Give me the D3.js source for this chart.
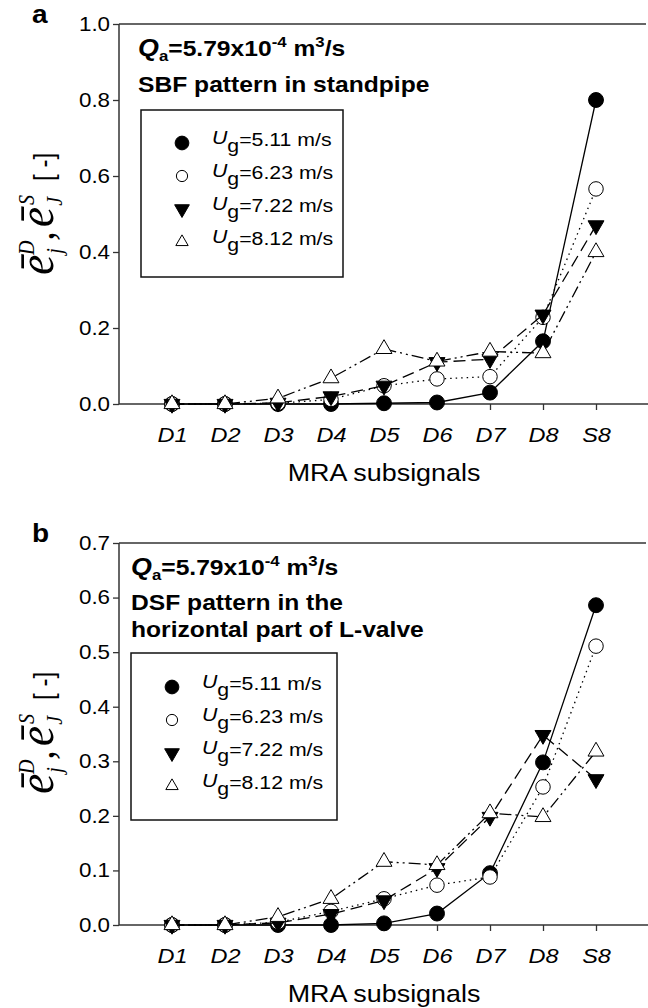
<!DOCTYPE html>
<html lang="en">
<head>
<meta charset="utf-8">
<title>MRA subsignals</title>
<script src="https://d3js.org/d3.v7.min.js"></script>
<style>
  body{margin:0;background:#fff;font-family:"Liberation Sans",Arial,sans-serif;}
  svg text{fill:#000;}
  .tick text{font-family:"Liberation Sans",Arial,sans-serif;}
</style>
</head>
<body>
<div id="chart"></div>
<script>
// categories on the x axis
var categories = ["D1","D2","D3","D4","D5","D6","D7","D8","S8"]
var speeds = ["5.11","6.23","7.22","8.12"]

// panel a : SBF pattern in standpipe
var a_511 = [0, 0, 0, 0, 0.002, 0.004, 0.03, 0.165, 0.80]
var a_623 = [0, 0, 0.002, 0.012, 0.048, 0.066, 0.072, 0.228, 0.566]
var a_722 = [0, 0, 0.003, 0.02, 0.048, 0.11, 0.118, 0.235, 0.47]
var a_812 = [0, 0, 0.015, 0.068, 0.145, 0.112, 0.138, 0.134, 0.40]
var a_ticks = [0, 0.2, 0.4, 0.6, 0.8, 1.0]

// panel b : DSF pattern in the horizontal part of L-valve
var b_511 = [0, 0, 0, 0, 0.003, 0.021, 0.095, 0.298, 0.586]
var b_623 = [0, 0, 0.005, 0.025, 0.048, 0.073, 0.088, 0.253, 0.511]
var b_722 = [0, 0, 0.004, 0.02, 0.045, 0.104, 0.198, 0.348, 0.267]
var b_812 = [0, 0, 0.015, 0.048, 0.116, 0.11, 0.205, 0.198, 0.318]
var b_ticks = [0, 0.1, 0.2, 0.3, 0.4, 0.5, 0.6, 0.7]

var w = 648, h = 1008
var SX = 1.12   // the printed lettering is a bit wide
var svg = d3.select("#chart").append("svg").attr("width", w).attr("height", h)

var styles = [
  {dash: null, symbol: d3.symbolCircle, fill: "#000", size: 175},
  {dash: "1.5,4", symbol: d3.symbolCircle, fill: "#fff", size: 165},
  {dash: "12,6", symbol: d3.symbolTriangle, fill: "#000", size: 110, flip: true},
  {dash: "12,4,2,4,2,4", symbol: d3.symbolTriangle, fill: "#fff", size: 110}
]

// text placed with a slight horizontal stretch
function txt(g, x, y){
  return g.append("text").attr("transform", "translate(" + x + "," + y + ") scale(" + SX + ",1)")
}

function drawPanel(cfg){
  var g = svg.append("g")
  var x = d3.scalePoint().domain(categories).range([119, 649]).padding(1)
  var y = d3.scaleLinear().domain([0, cfg.max]).range([cfg.bottom, cfg.top])

  var yAxis = g.append("g").attr("transform", "translate(119,0)")
    .call(d3.axisLeft(y).tickValues(cfg.ticks).tickFormat(d3.format(".1f")).tickSize(6).tickPadding(2))
  var xAxis = g.append("g").attr("transform", "translate(0," + cfg.bottom + ")")
    .call(d3.axisBottom(x).tickSize(6).tickPadding(17))
  g.selectAll(".domain").remove()
  g.selectAll(".tick line").attr("stroke", "#333").attr("stroke-width", 1.3)
  xAxis.selectAll("text").style("font-style", "italic").style("font-size", "21px").attr("transform", "scale(" + SX + ",1)")
  yAxis.selectAll("text").style("font-size", "20px").attr("transform", "scale(" + SX + ",1)")

  // frame lines
  g.append("line").attr("x1", 119).attr("x2", 646).attr("y1", cfg.top).attr("y2", cfg.top)
    .attr("stroke", "#333").attr("stroke-width", 1.5)
  g.append("line").attr("x1", 119).attr("x2", 119).attr("y1", cfg.top).attr("y2", cfg.bottom)
    .attr("stroke", "#333").attr("stroke-width", 1.5)
  g.append("line").attr("x1", 119).attr("x2", 648).attr("y1", cfg.bottom).attr("y2", cfg.bottom)
    .attr("stroke", "#333").attr("stroke-width", 1.5)

  // x title
  txt(g, 384, cfg.bottom + 77).attr("text-anchor", "middle").style("font-size", "24px").text("MRA subsignals")

  // panel letter
  txt(g, 32, cfg.top - 1).style("font-size", "25px").style("font-weight", "bold").text(cfg.letter)

  // y title
  var yl = g.append("text")
    .attr("transform", "translate(53," + cfg.labelY + ") scale(" + SX + ",1) rotate(-90)")
    .attr("text-anchor", "middle")
  var serif = "'Liberation Serif','Times New Roman',serif"
  function it(sz){ return yl.append("tspan").style("font-family", serif).style("font-style", "italic").style("font-size", sz + "px") }
  it(46).text("\u0113")
  it(20).attr("dx", 1).attr("dy", 8).text("j")
  it(20).attr("dx", -7).attr("dy", -25).text("D")
  it(38).attr("dx", 0).attr("dy", 17).text(",")
  it(46).attr("dx", 4).text("\u0113")
  it(20).attr("dx", 1).attr("dy", 8).text("J")
  it(20).attr("dx", -8).attr("dy", -25).text("S")
  yl.append("tspan").style("font-size", "24px").attr("dx", 14).attr("dy", 17).text("[ -]")

  // annotation
  var t1 = txt(g, cfg.annX, cfg.top + 32).style("font-size", "22px").style("font-weight", "bold")
  t1.append("tspan").style("font-style", "italic").style("font-size", "24px").text("Q")
  t1.append("tspan").attr("dy", 5).style("font-size", "15px").text("a")
  t1.append("tspan").attr("dy", -5).text("=5.79x10")
  t1.append("tspan").attr("dy", -9).style("font-size", "15px").text("-4")
  t1.append("tspan").attr("dy", 9).text(" m")
  t1.append("tspan").attr("dy", -9).style("font-size", "15px").text("3")
  t1.append("tspan").attr("dy", 9).text("/s")
  cfg.note.forEach(function(s, i){
    txt(g, cfg.annX, cfg.top + cfg.noteY + i * 27)
      .style("font-size", "22px").style("font-weight", "bold").text(s)
  })

  // legend
  var lg = cfg.legend
  g.append("rect").attr("x", lg.x).attr("y", lg.y).attr("width", lg.w).attr("height", lg.h)
    .attr("fill", "none").attr("stroke", "#111").attr("stroke-width", 1.5)
  speeds.forEach(function(s, i){
    var st = styles[i]
    var cy = lg.y + lg.first + i * lg.step
    g.append("path").attr("d", d3.symbol().type(st.symbol).size(st.fill == "#000" ? st.size * 0.85 : st.size * 0.6)())
      .attr("transform", "translate(" + (lg.x + 41) + "," + cy + ")" + (st.flip ? " rotate(180)" : ""))
      .attr("fill", st.fill).attr("stroke", "#000").attr("stroke-width", 1)
    var tx = txt(g, lg.x + 71, cy + 3).style("font-size", "19px")
    tx.append("tspan").style("font-style", "italic").attr("dy", -2).text("U")
    tx.append("tspan").attr("dy", 8).text("g")
    tx.append("tspan").attr("dy", -6).text("=" + s + " m/s")
  })

  // series
  var line = d3.line().x(function(d, i){ return x(categories[i]) }).y(function(d){ return y(d) })
  cfg.series.forEach(function(vals, k){
    var st = styles[k]
    g.append("path").datum(vals).attr("d", line).attr("fill", "none")
      .attr("stroke", "#000").attr("stroke-width", 1.3)
      .attr("stroke-dasharray", st.dash)
    g.selectAll(null).data(vals).enter().append("path")
      .attr("d", d3.symbol().type(st.symbol).size(st.size))
      .attr("transform", function(d, i){
        return "translate(" + x(categories[i]) + "," + y(d) + ")" + (st.flip ? " rotate(180)" : "")
      })
      .attr("fill", st.fill).attr("stroke", "#000").attr("stroke-width", 1)
  })
}

drawPanel({
  letter: "a", top: 24, bottom: 404, max: 1.0, ticks: a_ticks, labelY: 214, annX: 138, noteY: 68,
  note: ["SBF pattern in standpipe"],
  legend: {x: 141, y: 110, w: 202, h: 167, first: 33, step: 33},
  series: [a_511, a_623, a_722, a_812]
})
drawPanel({
  letter: "b", top: 543, bottom: 925, max: 0.7, ticks: b_ticks, labelY: 733, annX: 131, noteY: 67,
  note: ["DSF pattern in the", "horizontal part of L-valve"],
  legend: {x: 131, y: 653, w: 206, h: 167, first: 34, step: 33},
  series: [b_511, b_623, b_722, b_812]
})
</script>
</body>
</html>
